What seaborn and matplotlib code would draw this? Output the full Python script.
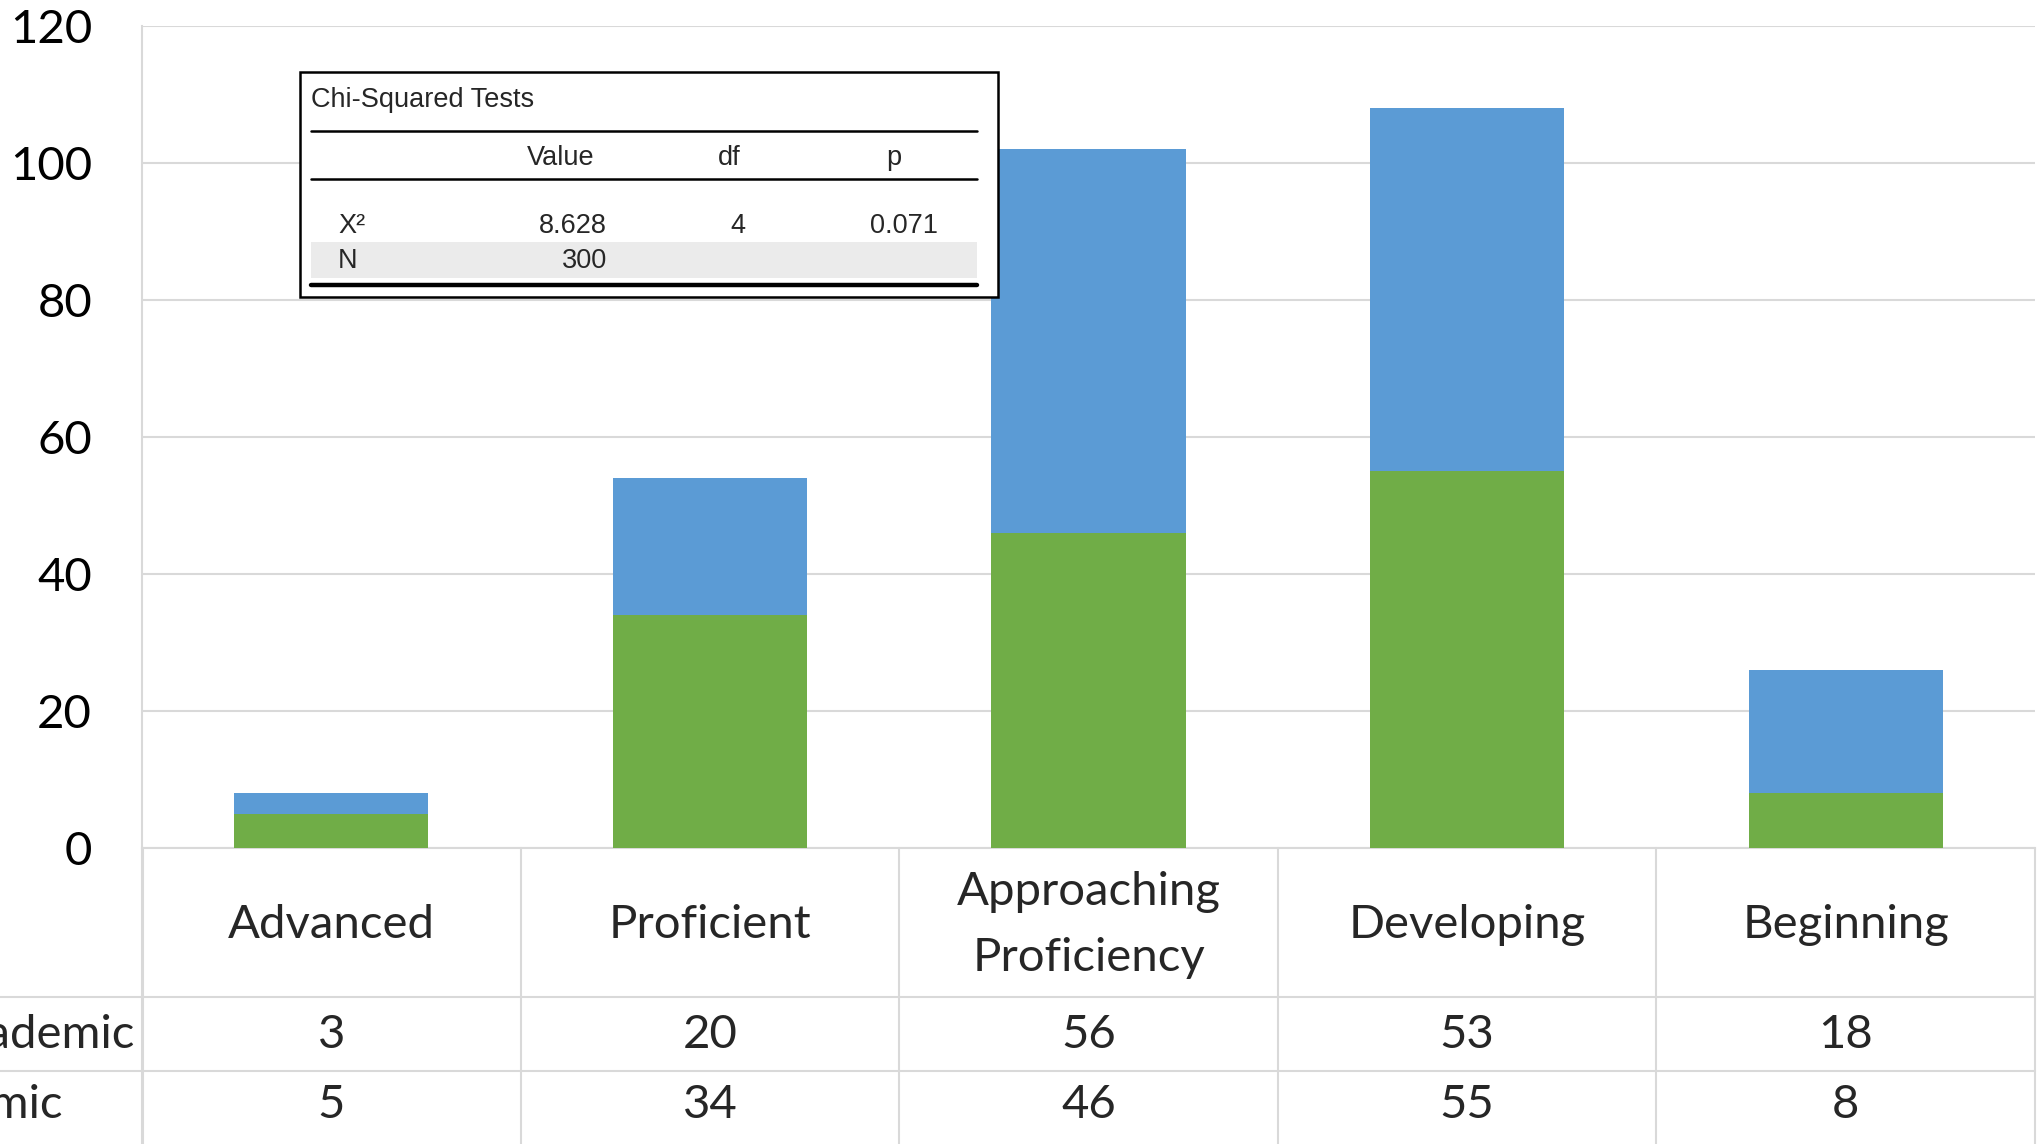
import numpy as np
import pandas as pd
import seaborn as sns
from matplotlib import pyplot as plt
from matplotlib.patches import Rectangle
from matplotlib.transforms import blended_transform_factory

# data
categories = ["Advanced", "Proficient", "Approaching\nProficiency", "Developing", "Beginning"]
row_labels = ["Non-Academic", "Academic"]
non_academic = [3, 20, 56, 53, 18]   # blue, top of stack
academic = [5, 34, 46, 55, 8]        # green, bottom of stack
y_ticks = [0, 20, 40, 60, 80, 100, 120]

chi_title = "Chi-Squared Tests"
chi_header = ["Value", "df", "p"]
chi_stat = ["X²", "8.628", "4", "0.071"]
chi_n = ["N", "300"]

BLUE = "#5B9BD5"
GREEN = "#70AD47"
GRID = "#D9D9D9"

sns.set_style("white")
plt.rcParams["font.family"] = ["Lato", "DejaVu Sans"]

W, H = 2042, 1144
fig = plt.figure(figsize=(W / 100, H / 100), dpi=100)

# main plot area
ax = fig.add_axes([142 / W, 1 - 848 / H, (2035 - 142) / W, (848 - 26) / H])

df = pd.DataFrame({
    "Category": categories,
    "Total": np.add(non_academic, academic),
    "Academic": academic,
})
sns.barplot(data=df, x="Category", y="Total", color=BLUE, saturation=1,
            width=0.513, linewidth=0, ax=ax, zorder=2)
sns.barplot(data=df, x="Category", y="Academic", color=GREEN, saturation=1,
            width=0.513, linewidth=0, ax=ax, zorder=3)

ax.set_xlim(-0.5, len(categories) - 0.5)
ax.set_ylim(0, 120)
ax.set_yticks(y_ticks)
ax.set_xticks([])
ax.set_xlabel("")
ax.set_ylabel("")
ax.yaxis.grid(True, color=GRID, linewidth=1.5)
ax.set_axisbelow(True)
ax.tick_params(axis="y", length=0, pad=36, labelsize=34, labelcolor="black")
for side in ["top", "right"]:
    ax.spines[side].set_visible(False)
for side in ["left", "bottom"]:
    ax.spines[side].set_color(GRID)
    ax.spines[side].set_linewidth(1.5)

# overlay in pixel coordinates for the data table and the inset
ov = fig.add_axes([0, 0, 1, 1])
ov.set_xlim(0, W)
ov.set_ylim(H, 0)
ov.axis("off")
tr = blended_transform_factory(ax.transData, ov.transData)

# data table below the bars
ov.plot([143, 143], [848, H], color=GRID, lw=1.5)
for i in range(len(categories) + 1):
    ov.plot([i - 0.5, i - 0.5], [848, H], color=GRID, lw=1.5, transform=tr)
for y in [997, 1071]:
    ov.plot([0, 2035], [y, y], color=GRID, lw=1.5)

for i, cat in enumerate(categories):
    ov.text(i, 925, cat, transform=tr, ha="center", va="center",
            fontsize=34, linespacing=1.68)
for row_y, vals in [(1035, non_academic), (1105, academic)]:
    for i, v in enumerate(vals):
        ov.text(i, row_y, str(v), transform=tr, ha="center", va="center", fontsize=34)
ov.text(135, 1035, row_labels[0], ha="right", va="center", fontsize=34)
ov.text(63, 1105, row_labels[1], ha="right", va="center", fontsize=34)

# chi-squared inset table
arial = ["Liberation Sans", "DejaVu Sans"]
ov.add_patch(Rectangle((300, 72), 698, 225, facecolor="white",
                       edgecolor="black", lw=1.8, zorder=5))
ov.add_patch(Rectangle((311, 242), 666, 36, facecolor="#EBEBEB",
                       edgecolor="none", zorder=6))
ov.plot([311, 977], [131, 131], color="black", lw=1.8, zorder=7)
ov.plot([311, 977], [179, 179], color="black", lw=1.8, zorder=7)
ov.plot([311, 977], [285, 285], color="black", lw=3.2, zorder=7)

kw = dict(fontsize=19.5, family=arial, va="baseline", zorder=8)
ov.text(311, 107, chi_title, ha="left", **kw)
ov.text(561, 165, chi_header[0], ha="center", **kw)
ov.text(729, 165, chi_header[1], ha="center", **kw)
ov.text(894, 165, chi_header[2], ha="center", **kw)
ov.text(338, 233, chi_stat[0], ha="left", **kw)
ov.text(607, 233, chi_stat[1], ha="right", **kw)
ov.text(738, 233, chi_stat[2], ha="center", **kw)
ov.text(938, 233, chi_stat[3], ha="right", **kw)
ov.text(338, 268, chi_n[0], ha="left", **kw)
ov.text(607, 268, chi_n[1], ha="right", **kw)

fig.savefig("out.png", dpi=100)
